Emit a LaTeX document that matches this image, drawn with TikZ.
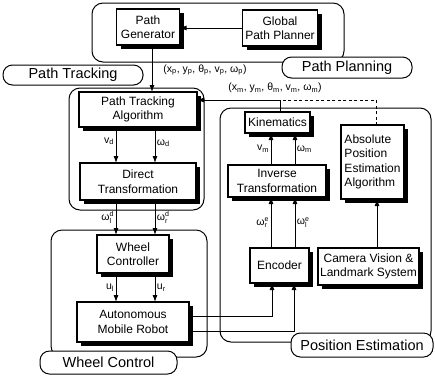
\documentclass[tikz,border=0pt]{standalone}
\usepackage{fontspec}
\setmainfont{Liberation Sans}
\usetikzlibrary{arrows.meta}
\newcommand\wsps[2]{$\mbox{ω}^{\mbox{\scriptsize #1}}_{\mbox{\scriptsize #2}}$}
% \bx[opts]{name}{x}{y}{w}{h}{text}
\newcommand\bx[7][]{%
  \fill[black] ({#3-#5/2+4},{#4-#6/2+4}) rectangle ({#3+#5/2+4},{#4+#6/2+4});
  \node[blk, minimum width=#5, minimum height=#6, #1] (#2) at (#3,#4) {#7};}
\begin{document}
\begin{tikzpicture}[x=1pt,y=-1pt,
  blk/.style={draw, line width=1.1pt, fill=white, align=center, inner sep=0pt, outer sep=0pt,
    font=\fontsize{12}{14.5}\selectfont},
  grp/.style={draw, line width=1pt, rounded corners=11pt},
  pill/.style={draw, line width=1pt, fill=white, rounded corners=9.5pt,
    font=\fontsize{14.5}{16}\selectfont, inner sep=0pt, outer sep=0pt},
  arr/.style={line width=0.9pt, -{Latex[length=7pt,width=5pt]}},
  ln/.style={line width=0.9pt},
  lbl/.style={font=\fontsize{10.5}{12}\selectfont, inner sep=1.5pt},
]
\useasboundingbox (0,0) rectangle (435,376);

% groups
\draw[grp] (92,3) rectangle (344,62);
\draw[grp] (69,88) rectangle (204,210);
\draw[grp] (51,230) rectangle (207,357);
\draw[grp] (220,108) rectangle (431,342);

% group labels
\node[pill, minimum width=130, minimum height=21] (ppl) at (347,67.5) {Path Planning};
\node[pill, minimum width=140, minimum height=20] (ptl) at (73,75) {Path Tracking};
\node[pill, minimum width=137, minimum height=23] (wcl) at (108.5,362.5) {Wheel Control};
\node[pill, minimum width=142, minimum height=24] (pel) at (362,345) {Position Estimation};

% boxes with shadows
\bx{pg}{148}{27}{63}{36}{Path\\Generator}
\bx{gpp}{280}{28}{75}{36}{Global\\Path Planner}
\bx{pta}{138}{109.5}{118}{35}{Path Tracking\\Algorithm}
\bx{dt}{138}{181.5}{116}{37}{Direct\\Transformation}
\bx{wc}{133}{254}{72}{38}{Wheel\\Controller}
\bx{amr}{133}{322}{112}{40}{Autonomous\\Mobile Robot}
\bx{kin}{277.5}{122.5}{65}{21}{Kinematics}
\bx{it}{277}{181}{98}{32}{Inverse\\Transformation}
\bx{enc}{279.5}{265.5}{59}{35}{Encoder}
\bx{cam}{368.5}{266.5}{101}{37}{Camera Vision \&\\Landmark System}
\bx[align=left]{ape}{372.5}{162}{63}{74}{Absolute\\Position\\Estimation\\Algorithm}

% helper coordinates
\coordinate (c0) at (152,0);
\coordinate (c1) at (116,0);
\coordinate (c2) at (155,0);
\coordinate (c3) at (271,0);
\coordinate (c4) at (295,0);
\coordinate (c5) at (280,100);
\coordinate (c6) at (376,100);
\coordinate (c7) at (377,0);
\coordinate (e1) at (272,316);
\coordinate (e2) at (294,331);

% connectors
\draw[arr] (gpp.west) -- (gpp.west -| pg.east);
\draw[arr] (pg.south -| c0) -- (pta.north -| c0);
\node[lbl] (lp) at (205,70) {(x\textsubscript{p}, y\textsubscript{p}, θ\textsubscript{p}, v\textsubscript{p}, ω\textsubscript{p})};

\draw[arr] (pta.south -| c1) -- (dt.north -| c1) node[lbl, pos=0.4, left] (lvd) {v\textsubscript{d}};
\draw[arr] (pta.south -| c2) -- (dt.north -| c2) node[lbl, pos=0.45, right] (lwd) {ω\textsubscript{d}};
\draw[arr] (dt.south -| c1) -- (wc.north -| c1) node[lbl, pos=0.5, left] (lwld) {\wsps{d}{l}};
\draw[arr] (dt.south -| c2) -- (wc.north -| c2) node[lbl, pos=0.5, right] (lwrd) {\wsps{d}{r}};
\draw[arr] (wc.south -| c1) -- (amr.north -| c1) node[lbl, pos=0.5, left] (lul) {u\textsubscript{l}};
\draw[arr] (wc.south -| c2) -- (amr.north -| c2) node[lbl, pos=0.5, right] (lur) {u\textsubscript{r}};

\draw[arr] (amr.east |- e1) -- (e1) -- (enc.south -| e1);
\draw[arr] (amr.east |- e2) -- (e2) -- (enc.south -| e2);

\draw[arr] (enc.north -| c3) -- (it.south -| c3) node[lbl, pos=0.5, left] (lwre) {\wsps{e}{r}};
\draw[arr] (enc.north -| c4) -- (it.south -| c4) node[lbl, pos=0.5, right] (lwle) {\wsps{e}{l}};
\draw[arr] (it.north -| c3) -- (kin.south -| c3) node[lbl, pos=0.5, left] (lvm) {v\textsubscript{m}};
\draw[arr] (it.north -| c4) -- (kin.south -| c4) node[lbl, pos=0.5, right] (lwm) {ω\textsubscript{m}};

\draw[arr] (kin.north -| c5) -- (c5) -- (pta.east |- c5);
\node[lbl] (lm) at (275,88) {(x\textsubscript{m}, y\textsubscript{m}, θ\textsubscript{m}, v\textsubscript{m}, ω\textsubscript{m})};
\draw[ln, dash pattern=on 3pt off 2.5pt] (ape.north -| c6) -- (c6) -- (c5);

\draw[arr] (cam.north -| c7) -- (ape.south -| c7);
\end{tikzpicture}
\end{document}
